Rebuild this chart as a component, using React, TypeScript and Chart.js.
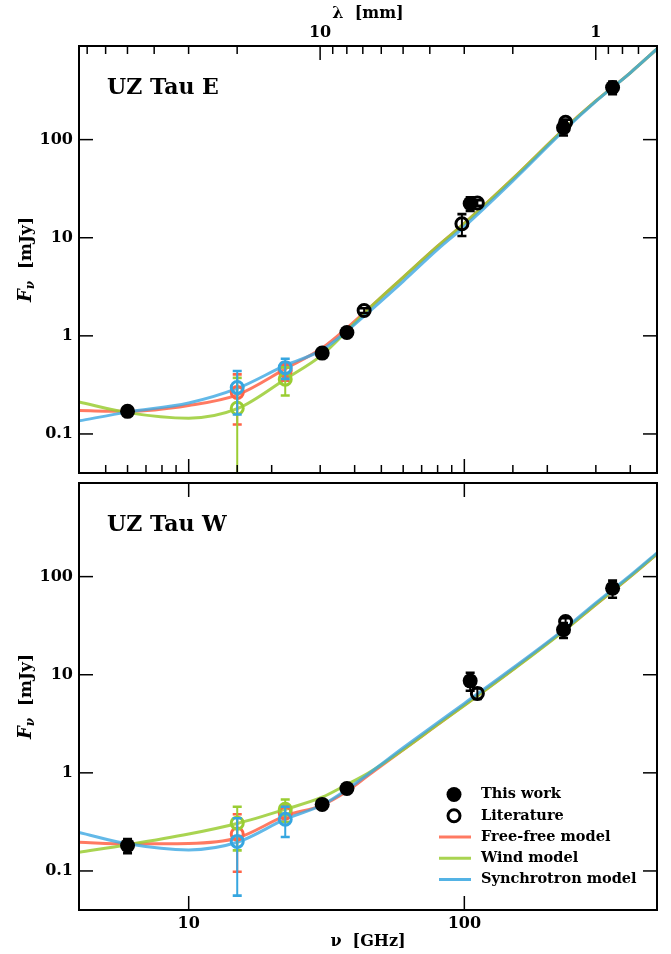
import React, { useEffect, useRef } from 'react';
import { Chart, registerables } from 'chart.js';

Chart.register(...registerables);

const FONT = '"DejaVu Serif", "Liberation Serif", serif';
const C_FF = '#ff6347';
const C_WIND = '#9acd32';
const C_SYNC = '#36a6e0';
const L_FF = 'rgba(255,99,71,0.85)';
const L_WIND = 'rgba(154,205,50,0.85)';
const L_SYNC = 'rgba(60,168,226,0.8)';

const X_MIN = 4;
const X_MAX = 500;
const Y_MIN = 0.04;
const Y_MAX = 900;
const C_LIGHT = 299.792458;

// ---------- UZ Tau E (top) ----------
const workFreqE = [6.0, 30.5, 37.5, 105, 229, 345];
const workE = [0.17, 0.667, 1.08, 22.3, 132, 340];
const workEErr = [0.01, 0.04, 0.06, 3.5, 22, 50];

const litFreqE = [43.3, 98, 111.5, 233];
const litE = [1.81, 13.9, 22.6, 150];
const litEErr = [0.1, 3.5, 1.5, 10];

const vlaFreq = [15, 22.4];
const ffLitE = [0.265, 0.44];
const ffLitEErr = [0.14, 0.09];
const windLitE = [0.183, 0.362];
const windLitEErr = [0.19, 0.115];
const syncLitE = [0.298, 0.474];
const syncLitEErr = [0.14, 0.11];

// ---------- UZ Tau W (bottom) ----------
const workFreqW = [6.0, 30.5, 37.5, 105, 229, 345];
const workW = [0.182, 0.477, 0.692, 8.66, 28.7, 76];
const workWErr = [0.03, 0.03, 0.05, 1.8, 5, 15];

const litFreqW = [111.5, 233];
const litW = [6.45, 34.8];
const litWErr = [0.8, 3];

const ffLitW = [0.238, 0.39];
const ffLitWErr = [0.14, 0.075];
const windLitW = [0.307, 0.425];
const windLitWErr = [0.145, 0.11];
const syncLitW = [0.2, 0.337];
const syncLitWErr = [0.144, 0.115];

// ---------- models ----------
const modelFreq = [4, 6, 10, 15, 22.4, 30.5, 37.5, 45, 60, 80, 100, 150, 230, 300, 400, 500];
const ffModelE = [0.173, 0.17, 0.195, 0.25, 0.46, 0.75, 1.2, 1.9, 3.95, 8.2, 14, 40, 128, 248, 480, 840];
const windModelE = [0.212, 0.165, 0.145, 0.181, 0.362, 0.64, 1.12, 1.88, 3.95, 8.2, 14, 40, 128, 248, 480, 840];
const syncModelE = [0.136, 0.167, 0.207, 0.291, 0.5, 0.72, 1.12, 1.75, 3.6, 7.6, 13.0, 38, 124, 245, 480, 840];

const ffModelW = [0.196, 0.189, 0.191, 0.217, 0.364, 0.47, 0.65, 0.95, 1.72, 3.1, 4.9, 11.3, 28.3, 52, 100, 170];
const windModelW = [0.155, 0.185, 0.238, 0.305, 0.425, 0.565, 0.76, 1.0, 1.72, 3.1, 4.85, 11.2, 28, 52, 100, 170];
const syncModelW = [0.247, 0.189, 0.164, 0.196, 0.337, 0.47, 0.676, 0.98, 1.8, 3.25, 5.1, 11.7, 29, 54, 103, 175];

// ---------- axis / text ----------
const lambdaMajor = [10, 1];
const lambdaMinor = [70, 60, 50, 40, 30, 20, 9, 8, 7, 6, 5, 4, 3, 2, 0.9, 0.8, 0.7];
const panelNames = ['UZ Tau E', 'UZ Tau W'];
const legendLabels = ['This work', 'Literature', 'Free-free model', 'Wind model', 'Synchrotron model'];

const xy = (xs: number[], ys: number[]) => xs.map((x, i) => ({ x, y: ys[i] }));
const isPow10 = (v: number) => {
  const l = Math.log10(v);
  return Math.abs(l - Math.round(l)) < 1e-6;
};
const fmt = (v: number) => (v >= 1 ? String(Math.round(v)) : String(Number(v.toPrecision(1))));

function lineDs(label: string, data: any, color: string, order: number) {
  return {
    type: 'line', label, data, borderColor: color, backgroundColor: color, borderWidth: 3,
    pointRadius: 0, cubicInterpolationMode: 'monotone', fill: false, order,
  };
}
function openDs(label: string, data: any, errors: number[], color: string, order: number) {
  return {
    type: 'scatter', label, data, errors, errColor: color, pointRadius: 6, pointBorderWidth: 3,
    pointBorderColor: color, pointBackgroundColor: 'rgba(0,0,0,0)', showLine: false, order,
  };
}
function filledDs(label: string, data: any, errors: number[], order: number) {
  return {
    type: 'scatter', label, data, errors, errColor: '#000', pointRadius: 7.5, pointBorderWidth: 0,
    pointBorderColor: '#000', pointBackgroundColor: '#000', showLine: false, order,
  };
}

function datasetsTop() {
  return [
    lineDs('Free-free model', xy(modelFreq, ffModelE), L_FF, 10),
    lineDs('Wind model', xy(modelFreq, windModelE), L_WIND, 9),
    lineDs('Synchrotron model', xy(modelFreq, syncModelE), L_SYNC, 8),
    openDs('Free-free lit', xy(vlaFreq, ffLitE), ffLitEErr, C_FF, 6),
    openDs('Wind lit', xy(vlaFreq, windLitE), windLitEErr, C_WIND, 5),
    openDs('Sync lit', xy(vlaFreq, syncLitE), syncLitEErr, C_SYNC, 4),
    openDs('Literature', xy(litFreqE, litE), litEErr, '#000', 2),
    filledDs('This work', xy(workFreqE, workE), workEErr, 1),
  ];
}
function datasetsBottom() {
  return [
    lineDs('Free-free model', xy(modelFreq, ffModelW), L_FF, 10),
    lineDs('Wind model', xy(modelFreq, windModelW), L_WIND, 9),
    lineDs('Synchrotron model', xy(modelFreq, syncModelW), L_SYNC, 8),
    openDs('Free-free lit', xy(vlaFreq, ffLitW), ffLitWErr, C_FF, 6),
    openDs('Wind lit', xy(vlaFreq, windLitW), windLitWErr, C_WIND, 5),
    openDs('Sync lit', xy(vlaFreq, syncLitW), syncLitWErr, C_SYNC, 4),
    openDs('Literature', xy(litFreqW, litW), litWErr, '#000', 2),
    filledDs('This work', xy(workFreqW, workW), workWErr, 1),
  ];
}

const tickFont = { family: FONT, size: 16, weight: 'bold' as const };
const titleFont = { family: FONT, size: 16, weight: 'bold' as const };

const decoPlugin = {
  id: 'deco',
  beforeDatasetDraw(chart: any, args: any) {
    const ds = chart.data.datasets[args.index];
    if (!ds.errors) return;
    const ctx = chart.ctx;
    const a = chart.chartArea;
    const ys = chart.scales.y;
    ctx.save();
    ctx.beginPath();
    ctx.rect(a.left, a.top, a.right - a.left, a.bottom - a.top);
    ctx.clip();
    ctx.strokeStyle = ds.errColor;
    args.meta.data.forEach((pt: any, i: number) => {
      const v = ds.data[i].y;
      const e = ds.errors[i];
      const x = pt.x;
      const yHi = ys.getPixelForValue(v + e);
      const lo = v - e;
      const yLo = lo > 0 ? ys.getPixelForValue(lo) : a.bottom + 20;
      ctx.lineWidth = 2;
      ctx.beginPath();
      ctx.moveTo(x, yHi);
      ctx.lineTo(x, yLo);
      ctx.stroke();
      ctx.lineWidth = 2.6;
      ctx.beginPath();
      ctx.moveTo(x - 4.5, yHi);
      ctx.lineTo(x + 4.5, yHi);
      if (lo > 0) {
        ctx.moveTo(x - 4.5, yLo);
        ctx.lineTo(x + 4.5, yLo);
      }
      ctx.stroke();
    });
    ctx.restore();
  },
  afterDraw(chart: any) {
    const isTop = chart.options.plugins.deco.panel === 'top';
    const ctx = chart.ctx;
    const a = chart.chartArea;
    const xs = chart.scales.x;
    const ys = chart.scales.y;
    ctx.save();
    ctx.strokeStyle = '#000';
    ctx.lineWidth = 1.5;
    const seg = (x1: number, y1: number, x2: number, y2: number) => {
      ctx.beginPath();
      ctx.moveTo(x1, y1);
      ctx.lineTo(x2, y2);
      ctx.stroke();
    };
    xs.ticks.forEach((t: any) => {
      const v = t.value;
      if (v <= X_MIN * 1.001 || v >= X_MAX * 0.999) return;
      const px = xs.getPixelForValue(v);
      const len = isPow10(v) ? 14 : 8;
      seg(px, a.bottom, px, a.bottom - len);
      if (!isTop) seg(px, a.top, px, a.top + len);
    });
    if (isTop) {
      const all = [...lambdaMajor.map((l) => [l, 14]), ...lambdaMinor.map((l) => [l, 8])];
      all.forEach(([l, len]) => {
        const nu = C_LIGHT / l;
        if (nu <= X_MIN || nu >= X_MAX * 0.998) return;
        const px = xs.getPixelForValue(nu);
        seg(px, a.top, px, a.top + len);
      });
    }
    ys.ticks.forEach((t: any) => {
      const v = t.value;
      if (v <= Y_MIN * 1.001 || v >= Y_MAX * 0.999) return;
      const py = ys.getPixelForValue(v);
      const len = isPow10(v) ? 14 : 8;
      seg(a.left, py, a.left + len, py);
      seg(a.right, py, a.right - len, py);
    });
    ctx.lineWidth = 2;
    ctx.strokeRect(a.left, a.top, a.right - a.left, a.bottom - a.top);

    // panel name
    ctx.fillStyle = '#000';
    ctx.font = `bold 22px ${FONT}`;
    ctx.textAlign = 'left';
    ctx.textBaseline = 'middle';
    ctx.fillText(isTop ? panelNames[0] : panelNames[1], a.left + 28, a.top + 42);

    // y title: F_nu [mJy]
    const cy = (a.top + a.bottom) / 2;
    const fF = `italic bold 18px ${FONT}`;
    const fSub = `italic bold 12px ${FONT}`;
    const fR = `bold 17px ${FONT}`;
    ctx.font = fF;
    const wF = ctx.measureText('F').width;
    ctx.font = fSub;
    const wS = ctx.measureText('ν').width;
    ctx.font = fR;
    const rest = '  [mJy]';
    const wR = ctx.measureText(rest).width;
    const total = wF + wS + wR;
    ctx.translate(25, cy);
    ctx.rotate(-Math.PI / 2);
    ctx.textBaseline = 'alphabetic';
    let x0 = -total / 2;
    const base = 6;
    ctx.font = fF;
    ctx.fillText('F', x0, base);
    x0 += wF;
    ctx.font = fSub;
    ctx.fillText('ν', x0, base + 3);
    x0 += wS;
    ctx.font = fR;
    ctx.fillText(rest, x0, base);
    ctx.setTransform(1, 0, 0, 1, 0, 0);

    // legend
    if (!isTop) {
      const colors = [null, null, C_FF, C_WIND, C_SYNC];
      legendLabels.forEach((lab, i) => {
        const yRow = a.bottom - 115.5 + i * 21.25;
        const mx = a.right - 203;
        if (i === 0) {
          ctx.fillStyle = '#000';
          ctx.beginPath();
          ctx.arc(mx, yRow, 7.5, 0, Math.PI * 2);
          ctx.fill();
        } else if (i === 1) {
          ctx.strokeStyle = '#000';
          ctx.lineWidth = 3;
          ctx.beginPath();
          ctx.arc(mx, yRow, 6, 0, Math.PI * 2);
          ctx.stroke();
        } else {
          ctx.strokeStyle = colors[i] as string;
          ctx.globalAlpha = 0.85;
          ctx.lineWidth = 3;
          seg(a.right - 218, yRow, a.right - 186, yRow);
          ctx.globalAlpha = 1;
        }
        ctx.fillStyle = '#000';
        ctx.font = `bold 14.5px ${FONT}`;
        ctx.textAlign = 'left';
        ctx.textBaseline = 'middle';
        ctx.fillText(lab, a.right - 176, yRow);
      });
    }
    ctx.restore();
  },
};

function makeConfig(panel: 'top' | 'bottom'): any {
  const isTop = panel === 'top';
  const scales: any = {
    x: {
      type: 'logarithmic', min: X_MIN, max: X_MAX, position: 'bottom',
      grid: { display: false, drawTicks: false }, border: { display: false },
      ticks: isTop
        ? { display: false }
        : {
            display: true, autoSkip: false, maxRotation: 0, padding: 4, color: '#000', font: tickFont,
            callback: (v: number) => (isPow10(v) ? fmt(v) : null),
          },
      title: isTop
        ? { display: false }
        : { display: true, text: 'ν  [GHz]', color: '#000', font: titleFont, padding: { top: 0, bottom: 3 } },
      afterFit: (s: any) => {
        s.height = isTop ? 0 : 44;
        s.paddingLeft = 0;
        s.paddingRight = 0;
      },
    },
    y: {
      type: 'logarithmic', min: Y_MIN, max: Y_MAX, position: 'left',
      grid: { display: false, drawTicks: false }, border: { display: false },
      ticks: {
        autoSkip: false, padding: 6, color: '#000', font: tickFont,
        callback: (v: number) => (isPow10(v) ? fmt(v) : null),
      },
      afterFit: (s: any) => {
        s.width = 79;
        s.paddingTop = 0;
        s.paddingBottom = 0;
      },
    },
  };
  if (isTop) {
    scales.xTop = {
      type: 'logarithmic', min: X_MIN, max: X_MAX, position: 'top',
      grid: { display: false, drawTicks: false }, border: { display: false },
      afterBuildTicks: (s: any) => {
        s.ticks = lambdaMajor.map((l) => ({ value: C_LIGHT / l, major: true }));
      },
      ticks: {
        autoSkip: false, maxRotation: 0, padding: 4, color: '#000', font: tickFont,
        callback: (v: number) => String(Math.round((C_LIGHT / v) * 10) / 10),
      },
      title: { display: true, text: 'λ  [mm]', color: '#000', font: titleFont, padding: { top: 4, bottom: 0 } },
      afterFit: (s: any) => {
        s.height = 46;
        s.paddingLeft = 0;
        s.paddingRight = 0;
      },
    };
  }
  return {
    type: 'scatter',
    data: { datasets: isTop ? datasetsTop() : datasetsBottom() },
    options: {
      responsive: false,
      animation: false,
      events: [],
      layout: { padding: isTop ? { left: 0, right: 14, top: 0, bottom: 4 } : { left: 0, right: 14, top: 4, bottom: 0 } },
      scales,
      plugins: {
        legend: { display: false },
        tooltip: { enabled: false },
        deco: { panel },
      },
    },
    plugins: [decoPlugin],
  };
}

export default function App() {
  const topRef = useRef<HTMLCanvasElement | null>(null);
  const botRef = useRef<HTMLCanvasElement | null>(null);
  useEffect(() => {
    const c1 = new Chart(topRef.current as HTMLCanvasElement, makeConfig('top'));
    const c2 = new Chart(botRef.current as HTMLCanvasElement, makeConfig('bottom'));
    return () => {
      c1.destroy();
      c2.destroy();
    };
  }, []);
  return (
    <div style={{ position: 'absolute', left: 0, top: 0, width: 671, height: 954, background: '#fff' }}>
      <canvas ref={topRef} width={671} height={482} style={{ position: 'absolute', left: 0, top: 0 }} />
      <canvas ref={botRef} width={671} height={480} style={{ position: 'absolute', left: 0, top: 474 }} />
    </div>
  );
}
